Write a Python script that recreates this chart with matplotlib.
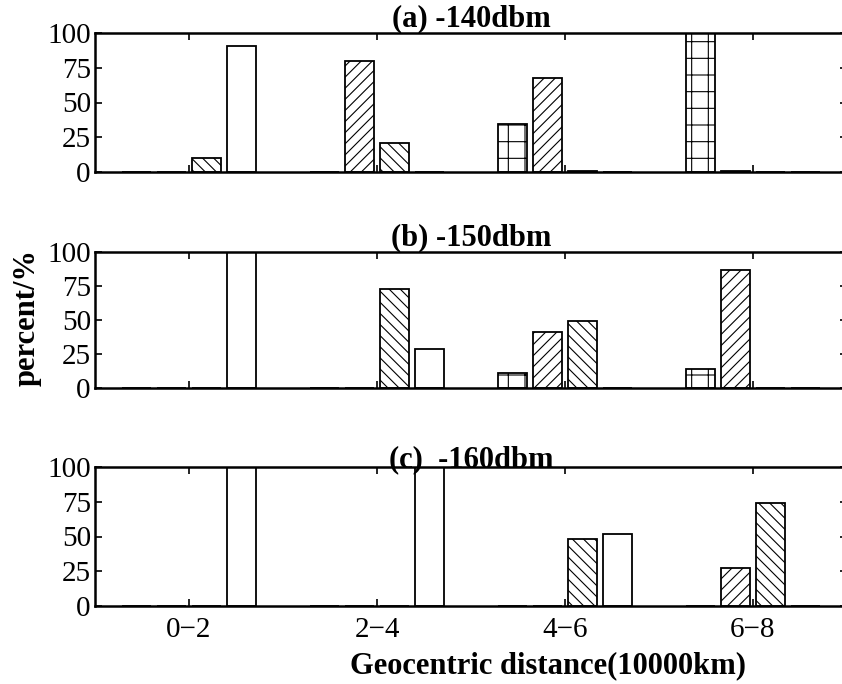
import numpy as np
import matplotlib
matplotlib.use("Agg")
import matplotlib.pyplot as plt

# ----------------- DATA -----------------
groups = ["0\u22122", "2\u22124", "4\u22126", "6\u22128"]
titles = ["(a) -140dbm", "(b) -150dbm", "(c)  -160dbm"]
hatches = ["+", "///", "\\\\\\", ""]

# rows = series (grid, '/', '\', blank), cols = distance groups
vals_140 = [[0, 0, 34.5, 100],
            [0, 80, 67.5, 1],
            [10, 21, 1, 0],
            [91, 0, 0, 0]]
vals_150 = [[0, 0, 11, 14],
            [0, 0, 41, 87],
            [0, 73, 49, 0],
            [100, 29, 0, 0]]
vals_160 = [[0, 0, 0, 0],
            [0, 0, 0, 27],
            [0, 0, 48, 74],
            [100, 100, 52, 0]]
panels = [vals_140, vals_150, vals_160]

yticks = [0, 25, 50, 75, 100]

# ----------------- STYLE -----------------
plt.rcParams["font.family"] = ["Liberation Serif", "DejaVu Serif"]
plt.rcParams["hatch.linewidth"] = 0.8

fig = plt.figure(figsize=(8.42, 6.84), dpi=100)
W, H = 842, 684
left, right = 95, 847
boxes = [(33, 172), (252, 388), (467, 606)]

x = np.arange(len(groups))
width = 0.155
pitch = 0.185

for i, (top, bot) in enumerate(boxes):
    ax = fig.add_axes([left / W, 1 - bot / H, (right - left) / W, (bot - top) / H])
    for s, v in enumerate(panels[i]):
        ax.bar(x + (s - 1.5) * pitch, v, width, color="white",
               edgecolor="black", linewidth=1.3, hatch=hatches[s])
    ax.set_xlim(-0.5, 3.5)
    ax.set_ylim(0, 100)
    ax.set_yticks(yticks)
    ax.set_xticks(x)
    if i == 2:
        ax.set_xticklabels(groups)
    else:
        ax.set_xticklabels([])
    ax.tick_params(direction="in", top=True, right=True, length=5,
                   width=1.2, labelsize=21, pad=3)
    ax.tick_params(axis="x", pad=8)
    for sp in ax.spines.values():
        sp.set_linewidth(1.8)
    ax.set_title(titles[i], fontsize=22, fontweight="bold", pad=0)

fig.text(27 / W, 1 - 318 / H, "percent/%", rotation=90, fontsize=22,
         fontweight="bold", ha="center", va="center")
fig.text(548 / W, 1 - 666 / H, "Geocentric distance(10000km)", fontsize=22,
         fontweight="bold", ha="center", va="center")

fig.savefig("out.png", dpi=100)
